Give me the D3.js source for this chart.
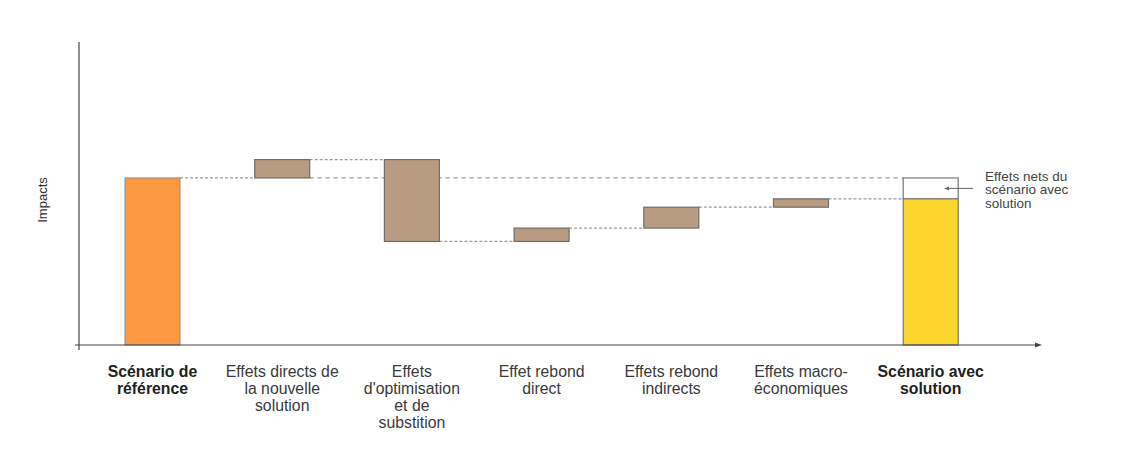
<!DOCTYPE html>
<html>
<head>
<meta charset="utf-8">
<script src="https://cdn.jsdelivr.net/npm/d3@7"></script>
<style>
  body { margin: 0; background: #fff; }
  text { font-family: Arial, "Liberation Sans", sans-serif; }
</style>
</head>
<body>
<div id="chart"></div>
<script>
// categories (label lines) and values
const categories = ["ref", "direct", "optim", "rebondDirect", "rebondIndirect", "macro", "final"];
const labelLines = [
  ["Scénario de", "référence"],
  ["Effets directs de", "la nouvelle", "solution"],
  ["Effets", "d'optimisation", "et de", "substition"],
  ["Effet rebond", "direct"],
  ["Effets rebond", "indirects"],
  ["Effets macro-", "économiques"],
  ["Scénario avec", "solution"]
];
const boldLabels = [true, false, false, false, false, false, true];
const referenceValue = 100;
const deltas = [11, -49, 8, 12.5, 5];
const noteLines = ["Effets nets du", "scénario avec", "solution"];

const W = 1124, H = 456;
const svg = d3.select("#chart").append("svg")
  .attr("width", W).attr("height", H);

const x = d3.scaleBand()
  .domain(categories)
  .range([50.3, 1032.9])
  .paddingInner(0.576)
  .paddingOuter(0.576);

const y = d3.scaleLinear()
  .domain([0, 181.4])
  .range([345, 42]);

// build waterfall steps
let running = referenceValue;
const steps = deltas.map((d, i) => {
  const start = running;
  running += d;
  return { key: categories[i + 1], start: start, end: running };
});
const finalValue = running;

// connector lines
const conn = [];
conn.push({ x1: x("ref") + x.bandwidth(), x2: x(steps[0].key), v: referenceValue });
steps.forEach((s, i) => {
  const nextKey = i < steps.length - 1 ? steps[i + 1].key : "final";
  conn.push({ x1: x(s.key) + x.bandwidth(), x2: x(nextKey), v: s.end });
});

// long reference-level line
svg.append("line")
  .attr("x1", x(steps[0].key) + x.bandwidth()).attr("x2", x("final"))
  .attr("y1", y(referenceValue)).attr("y2", y(referenceValue))
  .attr("stroke", "#9a9a9a").attr("stroke-width", 1.2)
  .attr("stroke-dasharray", "4,4");

svg.selectAll(".conn").data(conn).enter().append("line")
  .attr("class", "conn")
  .attr("x1", d => d.x1).attr("x2", d => d.x2)
  .attr("y1", d => y(d.v)).attr("y2", d => y(d.v))
  .attr("stroke", "#9a9a9a").attr("stroke-width", 1.2)
  .attr("stroke-dasharray", "3,2");

// reference bar
svg.append("rect")
  .attr("x", x("ref")).attr("width", x.bandwidth())
  .attr("y", y(referenceValue)).attr("height", y(0) - y(referenceValue))
  .attr("fill", "#fd9843").attr("stroke", "#8a8a8a").attr("stroke-width", 1);

// delta bars
svg.selectAll(".step").data(steps).enter().append("rect")
  .attr("class", "step")
  .attr("x", d => x(d.key)).attr("width", x.bandwidth())
  .attr("y", d => y(Math.max(d.start, d.end)))
  .attr("height", d => Math.abs(y(d.start) - y(d.end)))
  .attr("fill", "#b99b82").attr("stroke", "#6e6e6e").attr("stroke-width", 1.2);

// final bar: white box for net effect + yellow
svg.append("rect")
  .attr("x", x("final")).attr("width", x.bandwidth())
  .attr("y", y(referenceValue)).attr("height", y(finalValue) - y(referenceValue))
  .attr("fill", "#fff").attr("stroke", "#777").attr("stroke-width", 1.2);
svg.append("rect")
  .attr("x", x("final")).attr("width", x.bandwidth())
  .attr("y", y(finalValue)).attr("height", y(0) - y(finalValue))
  .attr("fill", "#fed52c").attr("stroke", "#777").attr("stroke-width", 1.2);

// axes
svg.append("line")
  .attr("x1", 79).attr("x2", 79).attr("y1", 42).attr("y2", 350)
  .attr("stroke", "#444").attr("stroke-width", 1.2);
svg.append("line")
  .attr("x1", 75).attr("x2", 1037).attr("y1", y(0)).attr("y2", y(0))
  .attr("stroke", "#444").attr("stroke-width", 1.2);
svg.append("path")
  .attr("d", `M1042,${y(0)} L1035,${y(0) - 2.5} L1035,${y(0) + 2.5} Z`)
  .attr("fill", "#444");

svg.append("text")
  .attr("transform", "translate(47,200) rotate(-90)")
  .attr("text-anchor", "middle")
  .attr("font-size", 13).attr("fill", "#333")
  .text("Impacts");

// category labels
const lab = svg.selectAll(".cat").data(categories).enter().append("text")
  .attr("class", "cat")
  .attr("text-anchor", "middle")
  .attr("font-size", 15.8)
  .attr("font-weight", (d, i) => boldLabels[i] ? "bold" : "normal")
  .attr("fill", (d, i) => boldLabels[i] ? "#222" : "#3a3a3a");
lab.each(function(d, i) {
  d3.select(this).selectAll("tspan").data(labelLines[i]).enter().append("tspan")
    .attr("x", x(d) + x.bandwidth() / 2)
    .attr("y", (l, j) => 376.5 + j * 17)
    .text(l => l);
});

// note with arrow
const noteY = (y(referenceValue) + y(finalValue)) / 2;
svg.append("line")
  .attr("x1", 973).attr("x2", 947).attr("y1", noteY).attr("y2", noteY)
  .attr("stroke", "#666").attr("stroke-width", 1);
svg.append("path")
  .attr("d", `M944,${noteY} L949,${noteY - 2} L949,${noteY + 2} Z`)
  .attr("fill", "#666");
svg.append("text")
  .attr("font-size", 13.5).attr("fill", "#444")
  .selectAll("tspan").data(noteLines).enter().append("tspan")
  .attr("x", 985).attr("y", (l, j) => 180.5 + j * 13.5)
  .text(l => l);
</script>
</body>
</html>
